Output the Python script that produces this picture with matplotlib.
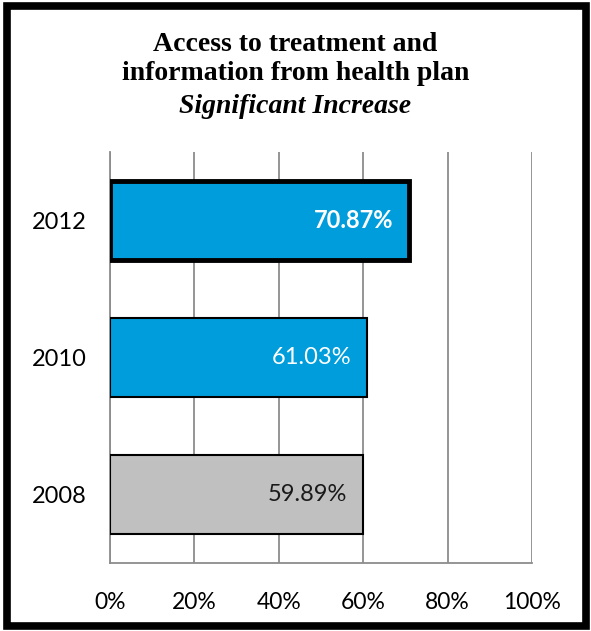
import matplotlib.pyplot as plt
from matplotlib.patches import Rectangle

years = ['2008', '2010', '2012']
shares = [59.89, 61.03, 70.87]
bar_colors = ['#c0c0c0', '#009ddc', '#009ddc']
edge_widths = [1.5, 1.5, 3.5]
label_colors = ['#1a1a1a', 'white', 'white']
label_weights = ['normal', 'normal', 'bold']
ticks = [0, 20, 40, 60, 80, 100]
tick_labels = ['0%', '20%', '40%', '60%', '80%', '100%']

fig = plt.figure(figsize=(5.91, 6.31), dpi=100)
ax = fig.add_axes([0.186, 0.108, 0.714, 0.651])

pos = range(len(years))
ax.barh(pos, shares, height=0.58, color=bar_colors, edgecolor='black',
        linewidth=edge_widths, zorder=3)

for i, v in enumerate(shares):
    ax.text(v - 3.7, i, '{:.2f}%'.format(v), ha='right', va='center',
            fontsize=17, color=label_colors[i], fontweight=label_weights[i],
            family='Lato', zorder=4)

ax.set_xlim(0, 100)
ax.set_ylim(-0.5, 2.5)
ax.set_xticks(ticks)
ax.set_xticklabels(tick_labels, family='Lato', fontsize=16.5)
ax.set_yticks(list(pos))
ax.set_yticklabels(years, family='Lato', fontsize=17)
ax.tick_params(length=0)
ax.tick_params(axis='x', pad=21)
ax.tick_params(axis='y', pad=17)
ax.xaxis.grid(True, color='#8c8c8c', linewidth=1.3, zorder=0)

for side in ['top', 'right']:
    ax.spines[side].set_visible(False)
for side in ['left', 'bottom']:
    ax.spines[side].set_color('#8c8c8c')
    ax.spines[side].set_linewidth(1.3)

fig.text(0.5, 0.906, 'Access to treatment and\ninformation from health plan',
         ha='center', va='center', fontsize=20, fontweight='bold',
         family='Liberation Serif', linespacing=1.2)
fig.text(0.5, 0.831, 'Significant Increase', ha='center', va='center',
         fontsize=20, fontweight='bold', fontstyle='italic',
         family='Liberation Serif')

fig.patches.append(Rectangle((0.011, 0.008), 0.98, 0.982, transform=fig.transFigure,
                             fill=False, edgecolor='black', linewidth=5.5))

fig.savefig('out.png', dpi=100)
